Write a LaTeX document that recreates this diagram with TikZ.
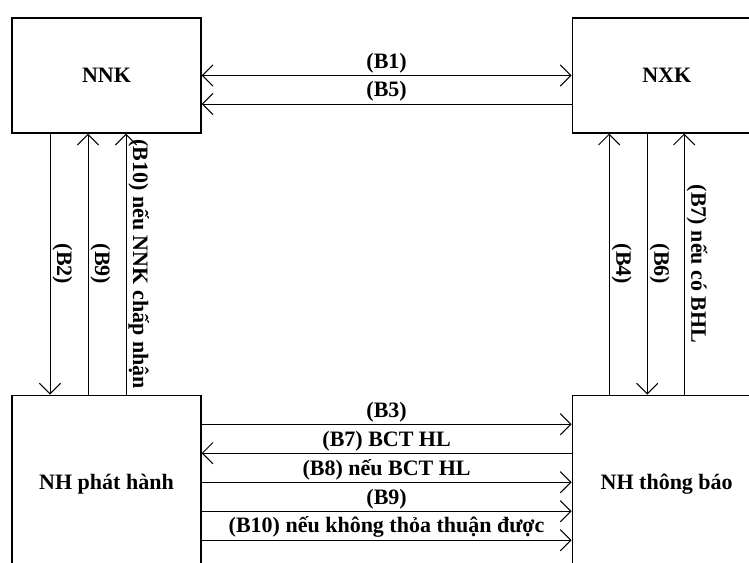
\documentclass[tikz,border=0pt]{standalone}
\usepackage{fontspec}
\setmainfont{Liberation Serif}
\usetikzlibrary{positioning, arrows.meta}

\begin{document}
\begin{tikzpicture}[
                x=0.75pt, y=-0.75pt,
                >={Straight Barb[length=8pt,width=16pt]},
                party/.style={draw=black, line width=0.9pt, rectangle, minimum width=141.75pt, font=\fontsize{16.5}{19}\selectfont\bfseries},
                edge/.style={line width=0.75pt},
                flowlabel/.style={font=\fontsize{16.5}{19}\selectfont\bfseries, inner sep=1.5pt},
                vflowlabel/.style={flowlabel, rotate=-90, anchor=south}
            ]
            \clip (0,0) rectangle (749,562);

            % Knoten
            \node[party, minimum height=86.25pt] (nnk) at (106.5,75.5) {NNK};
            \node[party, minimum height=86.25pt, right=277.5pt of nnk] (nxk) {NXK};
            \node[party, minimum height=133.5pt, below=195.75pt of nnk] (nhph) {NH phát hành};
            \node[party, minimum height=133.5pt, below=195.75pt of nxk] (nhtb) {NH thông báo};

            % Kanten oben
            \draw[edge, <->] (nnk.east) -- (nxk.west) node[midway, above, flowlabel] {(B1)};
            \draw[edge, <-] ([yshift=-21.375pt]nnk.east) -- ([yshift=-21.375pt]nxk.west) node[midway, above, flowlabel] {(B5)};

            % Kanten links
            \draw[edge, ->] ([xshift=-42.375pt]nnk.south) -- ([xshift=-42.375pt]nhph.north) node[midway, vflowlabel] {(B2)};
            \draw[edge, <-] ([xshift=-13.875pt]nnk.south) -- ([xshift=-13.875pt]nhph.north) node[midway, vflowlabel] {(B9)};
            \draw[edge, <-] ([xshift=14.625pt]nnk.south) -- ([xshift=14.625pt]nhph.north) node[midway, vflowlabel] {(B10) nếu NNK chấp nhận};

            % Kanten rechts
            \draw[edge, <-] ([xshift=-43.125pt]nxk.south) -- ([xshift=-43.125pt]nhtb.north) node[midway, vflowlabel] {(B4)};
            \draw[edge, ->] ([xshift=-14.625pt]nxk.south) -- ([xshift=-14.625pt]nhtb.north) node[midway, vflowlabel] {(B6)};
            \draw[edge, <-] ([xshift=13.125pt]nxk.south) -- ([xshift=13.125pt]nhtb.north) node[midway, vflowlabel] {(B7) nếu có BHL};

            % Kanten unten
            \draw[edge, ->] ([yshift=45pt]nhph.east) -- ([yshift=45pt]nhtb.west) node[midway, above, flowlabel] {(B3)};
            \draw[edge, <-] ([yshift=23.25pt]nhph.east) -- ([yshift=23.25pt]nhtb.west) node[midway, above, flowlabel] {(B7) BCT HL};
            \draw[edge, ->] ([yshift=1.5pt]nhph.east) -- ([yshift=1.5pt]nhtb.west) node[midway, above, flowlabel] {(B8) nếu BCT HL};
            \draw[edge, ->] ([yshift=-20.25pt]nhph.east) -- ([yshift=-20.25pt]nhtb.west) node[midway, above, flowlabel] {(B9)};
            \draw[edge, ->] ([yshift=-42pt]nhph.east) -- ([yshift=-42pt]nhtb.west) node[midway, above, flowlabel] {(B10) nếu không thỏa thuận được};

        \end{tikzpicture}
\end{document}
